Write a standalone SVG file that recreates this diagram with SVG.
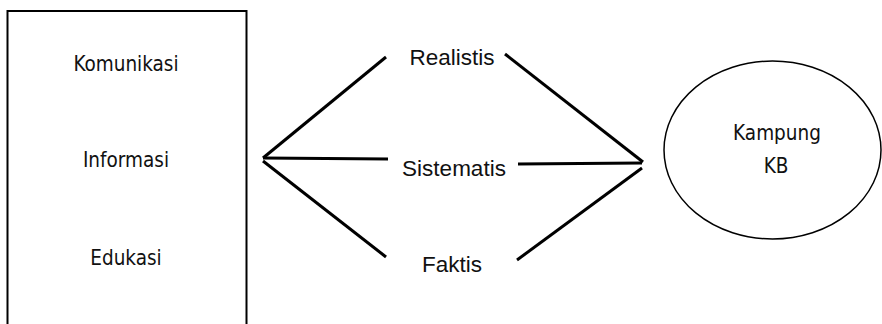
<svg xmlns="http://www.w3.org/2000/svg" width="882" height="324" viewBox="0 0 882 324">
<style>
.t1{font-family:"DejaVu Sans Condensed","DejaVu Sans",sans-serif;font-size:20.5px;fill:#111;text-anchor:middle}
.t2{font-family:"Liberation Sans",Arial,sans-serif;font-size:22.5px;fill:#111;text-anchor:middle}
.ln{stroke:#000;stroke-width:3;fill:none}
</style>
<rect width="882" height="324" fill="#fff"/>
<g id="box">
<path d="M7.5 330 V11 H246.5 V330" fill="none" stroke="#000" stroke-width="2"/>
<text class="t1" x="126" y="71">Komunikasi</text>
<text class="t1" x="126" y="167">Informasi</text>
<text class="t1" x="126" y="265">Edukasi</text>
</g>
<g id="connectors">
<line class="ln" x1="263" y1="158" x2="386" y2="57"/>
<line class="ln" x1="263" y1="158" x2="388" y2="159"/>
<line class="ln" x1="263" y1="161" x2="386" y2="257"/>
<line class="ln" x1="505" y1="54" x2="643" y2="162"/>
<line class="ln" x1="518" y1="164" x2="642" y2="163"/>
<line class="ln" x1="517" y1="260" x2="642" y2="168"/>
</g>
<g id="realistis"><text class="t2" x="452" y="65">Realistis</text></g>
<g id="sistematis"><text class="t2" x="454" y="176">Sistematis</text></g>
<g id="faktis"><text class="t2" x="452" y="272">Faktis</text></g>
<g id="kampung">
<ellipse cx="772.5" cy="150" rx="108.5" ry="89" fill="none" stroke="#000" stroke-width="1.5"/>
<text class="t1" x="777" y="140">Kampung</text>
<text class="t1" x="776" y="173">KB</text>
</g>
</svg>
